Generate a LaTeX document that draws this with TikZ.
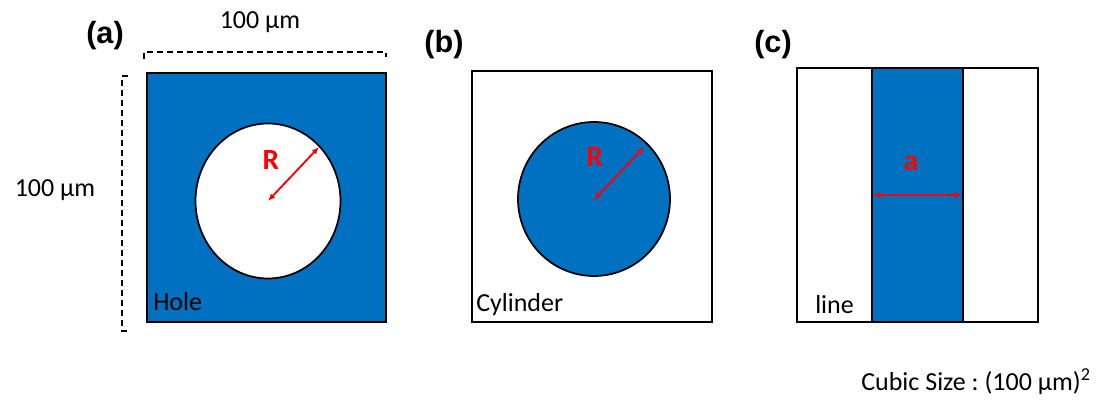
\documentclass[tikz,border=0pt]{standalone}
\usepackage{fontspec}
\setmainfont{Carlito}
\newfontfamily\panelfont{Liberation Sans}
\usepackage{tikz}
\usetikzlibrary{arrows.meta,positioning,calc}
\definecolor{Fill}{HTML}{0070C0}
\definecolor{Mark}{HTML}{FF0000}
\frenchspacing
\tikzset{
cellbox/.style={draw=black, line width=1.3pt},
cellfill/.style={draw=black, line width=1.3pt, fill=Fill},
sizeline/.style={draw=black, line width=0.9pt, dash pattern=on 4.5pt off 3pt},
radarrow/.style={{Latex[length=5.5pt,width=4.5pt]}-{Latex[length=5.5pt,width=4.5pt]}, line width=1.4pt, draw=Mark},
panellabel/.style={font=\panelfont\fontsize{23}{26}\selectfont\bfseries},
marklabel/.style={font=\fontsize{22}{24}\selectfont\bfseries, text=Mark},
sizetext/.style={font=\fontsize{19.5}{22}\selectfont},
celltext/.style={font=\fontsize{19.5}{22}\selectfont, anchor=west, inner sep=0pt}
}
\begin{document}
\begin{tikzpicture}[x=0.75pt, y=-0.75pt, >=Latex]
  \useasboundingbox (0,0) rectangle (1115,403);
  % (a) hole
  \draw[cellfill] (147,73) rectangle (386,322);
  \draw[cellbox, fill=white] (268,201) ellipse [x radius=72.5, y radius=77.5];
  \coordinate (holeC) at (268,201);
  \coordinate (holeE) at (319,147);
  \draw[radarrow] (holeC) -- (holeE);
  \node[marklabel] (holeR) at (271,160) {R};
  \node[celltext] (holeT) at (153,302) {Hole};
  \node[panellabel] (pa) at (105,36) {(a)};
  % size marks
  \draw[sizeline] (144,59) -- (144,52) -- (386,52) -- (386,57);
  \draw[sizeline] (128,76) -- (122,76) -- (122,331) -- (130,331);
  \node[sizetext] (topsize) at (260,22) {100 µm};
  \node[sizetext] (leftsize) at (55,190) {100 µm};
  % (b) cylinder
  \draw[cellbox] (472,71) rectangle (712,322);
  \draw[cellfill] (594,199) ellipse [x radius=76, y radius=77];
  \coordinate (cylC) at (594,200);
  \coordinate (cylE) at (644,147);
  \draw[radarrow] (cylC) -- (cylE);
  \node[marklabel] (cylR) at (595,157) {R};
  \node[celltext] (cylT) at (476,305) {Cylinder};
  \node[panellabel] (pb) at (444,45) {(b)};
  % (c) line
  \draw[cellbox] (797,68) rectangle (1038,322);
  \draw[cellfill] (872,68) rectangle (963,322);
  \coordinate (lineL) at (873,195);
  \coordinate (lineR) at (962,195);
  \draw[radarrow] (lineL) -- (lineR);
  \node[marklabel] (lineA) at (911,163) {a};
  \node[celltext] (lineT) at (815,305) {line};
  \node[panellabel] (pc) at (773,45) {(c)};
  \node[sizetext, anchor=east, inner sep=0pt] (cubic) at (1091,382) {Cubic Size : (100 µm)\textsuperscript{2}};
\end{tikzpicture}
\end{document}
